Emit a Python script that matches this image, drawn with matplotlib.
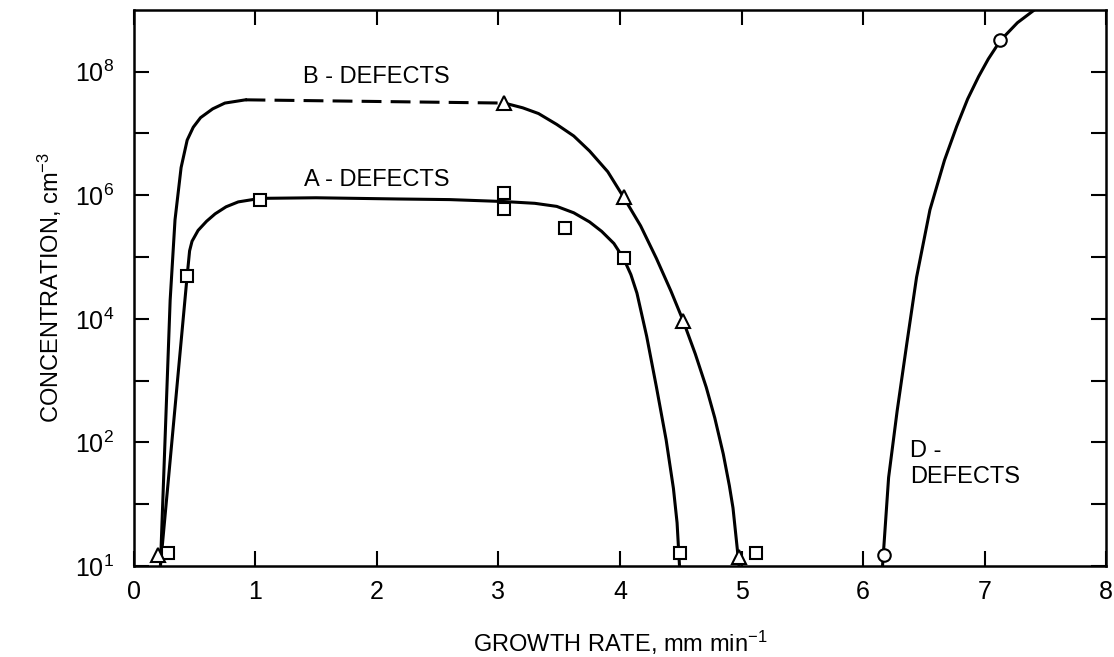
import numpy as np
import matplotlib
matplotlib.use("Agg")
import matplotlib.pyplot as plt
from matplotlib.ticker import FixedLocator, NullFormatter

plt.rcParams["font.family"] = ["Liberation Sans", "DejaVu Sans"]
plt.rcParams["mathtext.fontset"] = "custom"
plt.rcParams["mathtext.rm"] = "Liberation Sans"
plt.rcParams["mathtext.it"] = "Liberation Sans:italic"

# measured points
a_pts_x = [0.28, 0.44, 1.04, 3.05, 3.05, 3.55, 4.03, 4.49, 5.12]
a_pts_y = [1.6, 5.0e4, 8.5e5, 1.07e6, 5.9e5, 3.0e5, 9.5e4, 1.6, 1.6]
b_pts_x = [0.20, 3.05, 4.03, 4.52, 4.98]
b_pts_y = [1.5, 3.1e7, 9.3e5, 9.3e3, 1.4]
d_pts_x = [6.17, 7.13]
d_pts_y = [1.5, 3.2e8]

# hand-drawn curves
a_curve_x = [0.22, 0.44, 0.46, 0.48, 0.53, 0.60, 0.67, 0.76, 0.86, 1.04, 1.5, 2.17,
             2.6, 3.05, 3.30, 3.48, 3.62, 3.75, 3.85, 3.95, 4.03, 4.09, 4.14, 4.22,
             4.30, 4.38, 4.44, 4.47, 4.49]
a_curve_y = [1, 5.0e4, 1.26e5, 1.8e5, 2.7e5, 3.8e5, 5.0e5, 6.5e5, 7.8e5, 8.9e5, 9.1e5, 8.7e5,
             8.5e5, 7.9e5, 7.4e5, 6.6e5, 5.2e5, 3.7e5, 2.6e5, 1.66e5, 9.5e4, 5.2e4, 2.6e4, 5.2e3,
             7.9e2, 1.1e2, 18, 5, 1]
b_rise_x = [0.22, 0.30, 0.34, 0.39, 0.44, 0.49, 0.55, 0.65, 0.75, 0.92]
b_rise_y = [1, 2.0e4, 4.0e5, 2.8e6, 7.8e6, 1.26e7, 1.8e7, 2.5e7, 3.1e7, 3.5e7]
b_dash_x = [0.92, 3.05]
b_dash_y = [3.5e7, 3.1e7]
b_fall_x = [3.05, 3.20, 3.33, 3.48, 3.62, 3.75, 3.90, 4.03, 4.17, 4.30, 4.42,
            4.52, 4.62, 4.71, 4.78, 4.85, 4.90, 4.93, 4.98]
b_fall_y = [3.1e7, 2.6e7, 2.1e7, 1.4e7, 9.1e6, 5.2e6, 2.4e6, 9.3e5, 3.2e5, 9.5e4, 2.8e4,
            9.3e3, 2.7e3, 7.8e2, 2.5e2, 65, 20, 8.7, 1]
d_curve_x = [6.16, 6.21, 6.28, 6.36, 6.44, 6.55, 6.67, 6.77, 6.86, 6.95, 7.03, 7.13, 7.27, 7.41]
d_curve_y = [1, 27, 3.2e2, 4.0e3, 4.7e4, 5.8e5, 3.7e6, 1.3e7, 3.6e7, 8.3e7, 1.6e8, 3.2e8, 6.2e8, 1e9]

y_major = [1, 1e2, 1e4, 1e6, 1e8]
y_major_labels = [r"$\mathregular{10^1}$", r"$\mathregular{10^2}$", r"$\mathregular{10^4}$",
                  r"$\mathregular{10^6}$", r"$\mathregular{10^8}$"]
y_minor = [1e1, 1e3, 1e5, 1e7]

fig = plt.figure(figsize=(11.14, 6.57), dpi=100)
ax = fig.add_axes([0.120, 0.1385, 0.873, 0.8465])
ax.set_yscale("log")

lw = 2.2
ax.plot(a_curve_x, a_curve_y, color="black", lw=lw, zorder=2)
ax.plot(b_rise_x, b_rise_y, color="black", lw=lw, zorder=2)
ax.plot(b_dash_x, b_dash_y, color="black", lw=lw, ls=(0, (6.5, 3)), zorder=2)
ax.plot(b_fall_x, b_fall_y, color="black", lw=lw, zorder=2)
ax.plot(d_curve_x, d_curve_y, color="black", lw=lw, zorder=2)

mk = dict(ls="none", mfc="white", mec="black", mew=1.5, zorder=3, clip_on=False)
ax.plot(a_pts_x, a_pts_y, marker="s", ms=8.5, **mk)
ax.plot(b_pts_x, b_pts_y, marker="^", ms=10, **mk)
ax.plot(d_pts_x, d_pts_y, marker="o", ms=9, **mk)

ax.text(2.0, 8.1e7, "B - DEFECTS", fontsize=17, ha="center", va="center")
ax.text(2.0, 1.75e6, "A - DEFECTS", fontsize=17, ha="center", va="center")
ax.text(6.39, 45, "D -\nDEFECTS", fontsize=17, ha="left", va="center", linespacing=1.25)

ax.set_xlim(0, 8)
ax.set_ylim(1, 1e9)
ax.set_xticks(range(9))
ax.yaxis.set_major_locator(FixedLocator(y_major))
ax.set_yticklabels(y_major_labels)
ax.yaxis.set_minor_locator(FixedLocator(y_minor))
ax.yaxis.set_minor_formatter(NullFormatter())

ax.tick_params(which="both", direction="in", length=11, width=1.5,
               top=True, right=True, labelsize=18)
ax.tick_params(axis="x", pad=10)
ax.tick_params(axis="y", pad=14)
for s in ax.spines.values():
    s.set_linewidth(1.8)

ax.set_xlabel(r"GROWTH RATE, mm min$^{-1}$", fontsize=17, labelpad=18)
ax.set_ylabel(r"CONCENTRATION, cm$^{-3}$", fontsize=17, labelpad=8)

fig.savefig("out.png", dpi=100)
